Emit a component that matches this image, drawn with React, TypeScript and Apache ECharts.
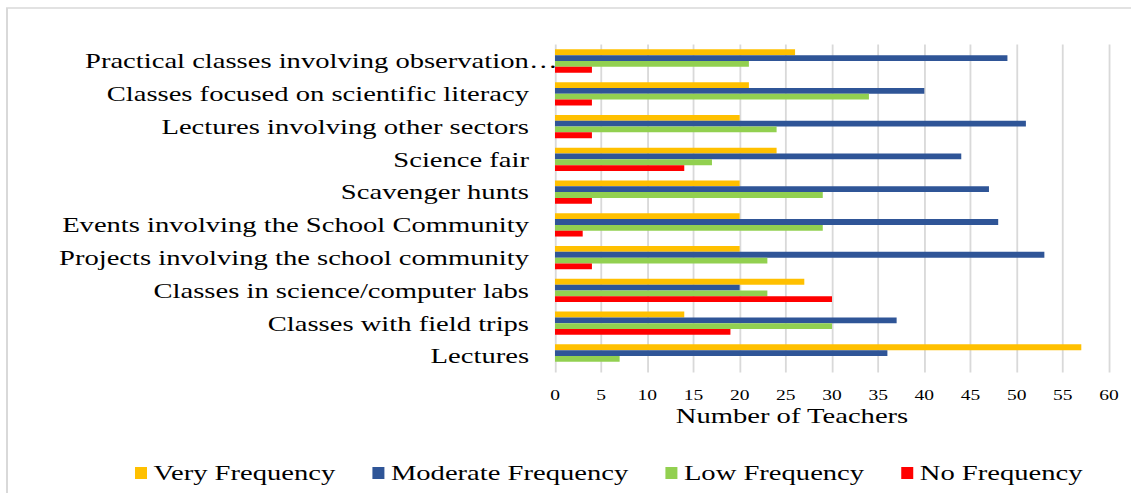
import React, { useEffect, useRef } from "react";
import * as echarts from "echarts";

const categories = [
  "Lectures",
  "Classes with field trips",
  "Classes in science/computer labs",
  "Projects involving the school community",
  "Events involving the School Community",
  "Scavenger hunts",
  "Science fair",
  "Lectures involving other sectors",
  "Classes focused on scientific literacy",
  "Practical classes involving observation…",
];
const veryFrequency = [57, 14, 27, 20, 20, 20, 24, 20, 21, 26];
const moderateFrequency = [36, 37, 20, 53, 48, 47, 44, 51, 40, 49];
const lowFrequency = [7, 30, 23, 23, 29, 29, 17, 24, 34, 21];
const noFrequency = [0, 19, 30, 4, 3, 4, 14, 4, 4, 4];
const seriesNames = ["Very Frequency", "Moderate Frequency", "Low Frequency", "No Frequency"];
const seriesColors = ["#FFC000", "#2F5597", "#92D050", "#FF0000"];
const xTicks = { min: 0, max: 60, interval: 5 };
const axisTitle = "Number of Teachers";

const S = 1.3;
const W = 1131;
const H = 493;
const CW = W / S;
const FONT = "'Liberation Serif', 'Times New Roman', serif";

export default function App() {
  const ref = useRef<HTMLDivElement>(null);
  useEffect(() => {
    if (!ref.current) return;
    const chart = echarts.init(ref.current, null, { renderer: "svg" });
    const values = [veryFrequency, moderateFrequency, lowFrequency, noFrequency];
    const gridLeft = 555 / S;
    const gridRight = CW - 1109 / S;
    chart.setOption({
      animation: false,
      backgroundColor: "#ffffff",
      textStyle: { fontFamily: FONT },
      grid: { left: gridLeft, right: gridRight, top: 44.6, bottom: H - 372.4, containLabel: false },
      legend: {
        data: seriesNames,
        left: 135 / S,
        top: 462,
        padding: 0,
        itemWidth: 12 / S,
        itemHeight: 12,
        itemGap: 28.5,
        icon: "rect",
        textStyle: { fontFamily: FONT, fontSize: 22, color: "#000" },
      },
      xAxis: {
        type: "value",
        min: xTicks.min,
        max: xTicks.max,
        interval: xTicks.interval,
        axisLine: { show: false },
        axisTick: { show: false },
        axisLabel: { fontFamily: FONT, fontSize: 15, color: "#000", margin: 15 },
        splitLine: { show: true, lineStyle: { color: "#d9d9d9", width: 1.4 } },
      },
      yAxis: {
        type: "category",
        data: categories,
        axisLine: { show: false },
        axisTick: { show: false },
        axisLabel: {
          fontFamily: FONT,
          fontSize: 22,
          color: "#000",
          margin: 20,
          formatter: (v: string) =>
            v.endsWith("…") ? "{m|" + v.slice(0, -1) + "}{e|…}" : v,
          rich: {
            m: { align: "left", fontFamily: FONT, fontSize: 22, color: "#000" },
            e: { align: "left", width: 0, fontFamily: FONT, fontSize: 22, color: "#000" },
          },
        },
        splitLine: { show: false },
      },
      graphic: [
        {
          type: "rect",
          z: -10,
          shape: { x: 7 / S, y: 8, width: 3000, height: 3000 },
          style: { fill: "none", stroke: "#d9d9d9", lineWidth: 1.5 },
          silent: true,
        },
        {
          type: "text",
          x: 792 / S,
          y: 416,
          style: {
            text: axisTitle,
            fontFamily: FONT,
            fontSize: 22,
            fill: "#000",
            textAlign: "center",
            textVerticalAlign: "middle",
          },
        },
      ],
      series: seriesNames.map((name, i) => ({
        name,
        type: "bar",
        data: values[i],
        itemStyle: { color: seriesColors[i] },
        barGap: "0%",
        barCategoryGap: "29%",
      })),
    });
    return () => chart.dispose();
  }, []);
  return (
    <div
      style={{
        position: "fixed",
        left: 0,
        top: 0,
        width: W,
        height: H,
        overflow: "hidden",
        background: "#fff",
      }}
    >
      <div
        ref={ref}
        style={{
          width: CW,
          height: H,
          transform: `scaleX(${S})`,
          transformOrigin: "0 0",
        }}
      />
    </div>
  );
}
